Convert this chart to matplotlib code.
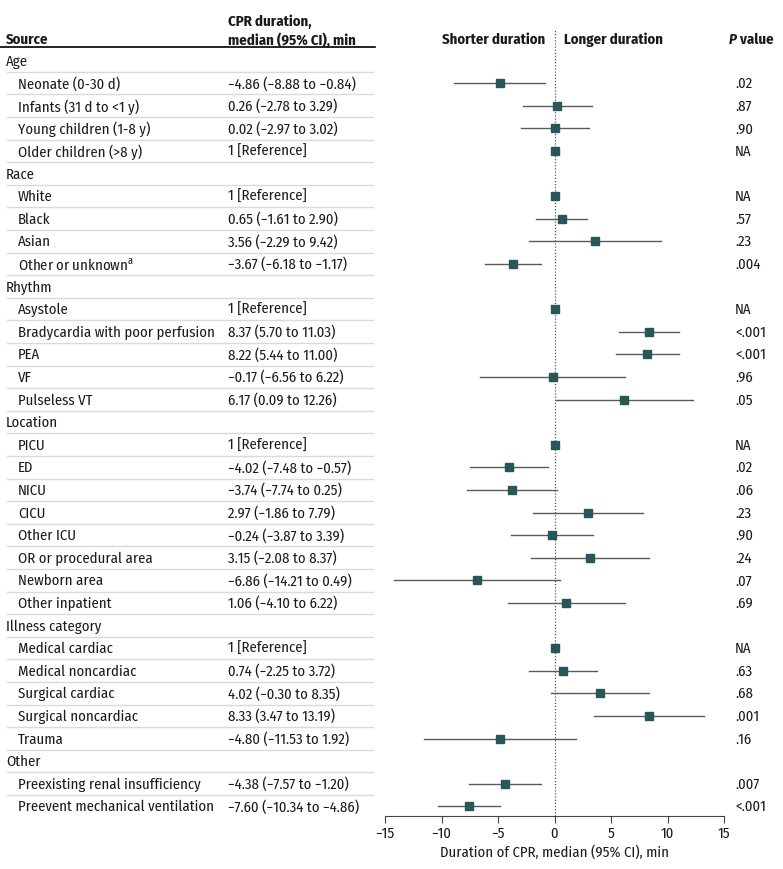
import matplotlib
matplotlib.use('Agg')
import matplotlib.pyplot as plt
from matplotlib.lines import Line2D
import matplotlib.transforms as mtransforms

plt.rcParams['font.family'] = ['Fira Sans Condensed', 'DejaVu Sans']
plt.rcParams['mathtext.fontset'] = 'custom'
plt.rcParams['mathtext.rm'] = 'Fira Sans Condensed'

GROUPS = ['Age', 'Race', 'Rhythm', 'Location', 'Illness category', 'Other']
LABELS = [
    ['Neonate (0-30 d)', 'Infants (31 d to <1 y)', 'Young children (1-8 y)', 'Older children (>8 y)'],
    ['White', 'Black', 'Asian', 'Other or unknown$^\\mathregular{a}$'],
    ['Asystole', 'Bradycardia with poor perfusion', 'PEA', 'VF', 'Pulseless VT'],
    ['PICU', 'ED', 'NICU', 'CICU', 'Other ICU', 'OR or procedural area', 'Newborn area', 'Other inpatient'],
    ['Medical cardiac', 'Medical noncardiac', 'Surgical cardiac', 'Surgical noncardiac', 'Trauma'],
    ['Preexisting renal insufficiency', 'Preevent mechanical ventilation'],
]
# None marks the reference category
EST = [
    [-4.86, 0.26, 0.02, None],
    [None, 0.65, 3.56, -3.67],
    [None, 8.37, 8.22, -0.17, 6.17],
    [None, -4.02, -3.74, 2.97, -0.24, 3.15, -6.86, 1.06],
    [None, 0.74, 4.02, 8.33, -4.80],
    [-4.38, -7.60],
]
LOW = [
    [-8.88, -2.78, -2.97, None],
    [None, -1.61, -2.29, -6.18],
    [None, 5.70, 5.44, -6.56, 0.09],
    [None, -7.48, -7.74, -1.86, -3.87, -2.08, -14.21, -4.10],
    [None, -2.25, -0.30, 3.47, -11.53],
    [-7.57, -10.34],
]
HIGH = [
    [-0.84, 3.29, 3.02, None],
    [None, 2.90, 9.42, -1.17],
    [None, 11.03, 11.00, 6.22, 12.26],
    [None, -0.57, 0.25, 7.79, 3.39, 8.37, 0.49, 6.22],
    [None, 3.72, 8.35, 13.19, 1.92],
    [-1.20, -4.86],
]
PVAL = [
    ['.02', '.87', '.90', 'NA'],
    ['NA', '.57', '.23', '.004'],
    ['NA', '<.001', '<.001', '.96', '.05'],
    ['NA', '.02', '.06', '.23', '.90', '.24', '.07', '.69'],
    ['NA', '.63', '.68', '.001', '.16'],
    ['.007', '<.001'],
]
XTICKS = [-15, -10, -5, 0, 5, 10, 15]

MARK = '#275757'
LINE = '#5a5a5a'
SEP = '#dadada'
TXT = '#1a1a1a'
FS = 10.6

W, H = 783, 870
fig = plt.figure(figsize=(W / 100, H / 100), dpi=100)

row_px = 22.6
y0_px = 61.5
ax_top_px, ax_bot_px = 48, 817
ax = fig.add_axes([385 / W, 1 - ax_bot_px / H, 339 / W, (ax_bot_px - ax_top_px) / H])

# flat row list: (label, is_header, est, low, high, p)
rows = []
for g, grp in enumerate(GROUPS):
    rows.append((grp, True, None, None, None, None))
    for i, lab in enumerate(LABELS[g]):
        rows.append((lab, False, EST[g][i], LOW[g][i], HIGH[g][i], PVAL[g][i]))
n = len(rows)
last = n - 1
ax.set_ylim(last + (ax_bot_px - (y0_px + last * row_px)) / row_px, -(y0_px - ax_top_px) / row_px)
ax.set_xlim(-15, 15)


def fx(px):
    return px / W


trans = mtransforms.blended_transform_factory(fig.transFigure, ax.transData)

for r, (lab, hdr, est, lo, hi, p) in enumerate(rows):
    if hdr:
        ax.text(fx(6), r, lab, transform=trans, fontsize=FS, va='center', ha='left', color=TXT)
        continue
    ax.text(fx(18), r, lab, transform=trans, fontsize=FS, va='center', ha='left', color=TXT)
    if est is None:
        ci = '1 [Reference]'
        ax.plot([0], [r], marker='s', ms=5.2, color=MARK, zorder=4, clip_on=False)
    else:
        ci = f'{est:.2f} ({lo:.2f} to {hi:.2f})'.replace('-', '\u2212')
        ax.plot([lo, hi], [r, r], color=LINE, lw=1, zorder=3, clip_on=False)
        ax.plot([est], [r], marker='s', ms=5.5, color=MARK, zorder=4, clip_on=False)
    ax.text(fx(228), r, ci, transform=trans, fontsize=FS, va='center', ha='left', color=TXT)
    ax.text(fx(735), r, p, transform=trans, fontsize=FS, va='center', ha='left', color=TXT)

# row separators
for r in range(n - 1):
    ax.add_line(Line2D([fx(7), fx(373)], [r + 0.5, r + 0.5], transform=trans,
                       color=SEP, lw=1, clip_on=False))
# header rule
ax.add_line(Line2D([fx(0), fx(375)], [-0.58, -0.58], transform=trans,
                   color='black', lw=1.2, clip_on=False))

# zero line
ax.plot([0, 0], [ax.get_ylim()[0], -1.4], color='#555555', lw=0.9,
        ls=(0, (1, 1.5)), clip_on=False, zorder=2)

# headers
hy = -0.95
ax.text(fx(6), hy, 'Source', transform=trans, fontsize=FS, fontweight='bold', va='center', color=TXT)
ax.text(fx(228), hy - 0.4, 'CPR duration,\nmedian (95% CI), min', transform=trans, fontsize=FS,
        fontweight='bold', va='center', linespacing=1.3, color=TXT)
ax.text(-0.85, hy, 'Shorter duration', fontsize=FS, fontweight='bold', ha='right', va='center', color=TXT)
ax.text(0.85, hy, 'Longer duration', fontsize=FS, fontweight='bold', ha='left', va='center', color=TXT)
ax.text(fx(729), hy, 'P', transform=trans, fontsize=FS, fontweight='bold',
        fontstyle='italic', ha='left', va='center', color=TXT)
ax.text(fx(737), hy, ' value', transform=trans, fontsize=FS, fontweight='bold',
        ha='left', va='center', color=TXT)

# axis styling
for s in ['top', 'right', 'left']:
    ax.spines[s].set_visible(False)
ax.spines['bottom'].set_color('#444444')
ax.set_yticks([])
ax.set_xticks(XTICKS)
ax.set_xticklabels([str(t).replace('-', '\u2212') for t in XTICKS])
ax.tick_params(axis='x', labelsize=FS, length=5, color='#444444', pad=2, labelcolor=TXT)
ax.set_xlabel('Duration of CPR, median (95% CI), min', fontsize=FS, labelpad=3, color=TXT)
ax.patch.set_visible(False)

fig.savefig('out.png', dpi=100)
